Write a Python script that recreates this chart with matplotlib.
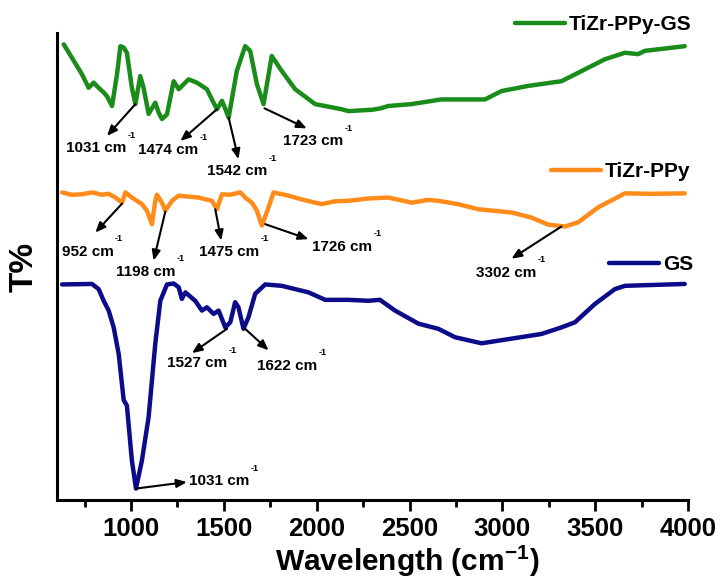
import matplotlib
matplotlib.use("Agg")
import matplotlib.pyplot as plt
from matplotlib.ticker import MultipleLocator

plt.rcParams["font.family"] = ["Liberation Sans", "DejaVu Sans"]
plt.rcParams["font.weight"] = "bold"
plt.rcParams["mathtext.fontset"] = "custom"
plt.rcParams["mathtext.rm"] = "Liberation Sans:bold"
plt.rcParams["mathtext.bf"] = "Liberation Sans:bold"

# spectra: wavenumber (cm-1) and T% (arbitrary, stacked)
tzg_wn = [638, 736, 772, 799, 826, 853, 871, 898, 925, 943, 961, 978, 1005, 1024,
          1050, 1068, 1095, 1131, 1149, 1167, 1194, 1230, 1257, 1310, 1355, 1382,
          1409, 1436, 1463, 1490, 1508, 1526, 1570, 1615, 1642, 1678, 1714, 1758,
          1812, 1884, 1992, 2135, 2171, 2300, 2345, 2386, 2510, 2671, 2906, 2996,
          3139, 3318, 3408, 3552, 3660, 3731, 3767, 3982]
tzg_t = [97.6, 91.2, 88.3, 89.4, 88.3, 87.3, 86.5, 84.4, 91.2, 97.2, 96.9, 95.8,
         88.3, 84.8, 90.8, 88.3, 82.7, 85.1, 83.0, 81.6, 82.6, 89.7, 88.0, 90.1,
         89.4, 88.7, 88.0, 85.8, 83.7, 85.5, 83.8, 81.9, 91.9, 97.2, 96.2, 89.1,
         84.8, 95.1, 91.9, 88.0, 84.8, 83.7, 83.3, 83.6, 83.9, 84.4, 84.8, 85.8,
         85.8, 87.6, 88.7, 89.7, 91.5, 94.4, 95.8, 95.5, 96.2, 97.2]

tzp_wn = [629, 680, 736, 790, 844, 880, 916, 952, 970, 1005, 1059, 1086, 1113,
          1131, 1140, 1167, 1185, 1221, 1257, 1310, 1364, 1436, 1463, 1490, 1535,
          1589, 1615, 1651, 1678, 1705, 1741, 1768, 1848, 1920, 1992, 2027, 2100,
          2171, 2280, 2386, 2512, 2600, 2655, 2760, 2870, 3050, 3157, 3247, 3337,
          3408, 3516, 3660, 3800, 3982]
tzp_t = [65.9, 65.4, 65.5, 65.9, 65.4, 65.6, 64.8, 63.7, 65.9, 64.8, 63.4, 62.0,
         59.1, 64.1, 65.4, 63.7, 62.0, 64.1, 65.2, 65.0, 64.8, 64.1, 62.3, 65.5,
         65.4, 65.9, 64.8, 63.7, 62.0, 58.8, 62.7, 65.9, 65.2, 64.4, 63.7, 63.4,
         64.0, 64.1, 64.6, 64.8, 63.7, 64.3, 64.1, 63.4, 62.3, 61.6, 60.5, 59.0,
         58.6, 59.5, 62.7, 65.7, 65.6, 65.7]

gs_wn = [629, 790, 826, 853, 880, 907, 934, 961, 978, 1005, 1027, 1059, 1095,
         1131, 1158, 1194, 1230, 1257, 1274, 1293, 1346, 1382, 1409, 1445, 1472,
         1508, 1535, 1561, 1579, 1606, 1633, 1669, 1723, 1812, 1956, 2046, 2171,
         2278, 2341, 2422, 2548, 2655, 2745, 2888, 3050, 3211, 3318, 3391, 3498,
         3606, 3660, 3982]
gs_t = [46.2, 46.3, 45.2, 42.7, 40.6, 37.0, 31.3, 21.4, 20.3, 8.5, 2.5, 8.5, 17.8,
        33.5, 42.7, 46.2, 46.4, 45.6, 43.1, 44.5, 42.7, 40.6, 41.3, 39.9, 40.6,
        37.0, 38.1, 42.4, 41.3, 36.7, 39.2, 44.2, 46.2, 45.9, 44.5, 42.9, 42.9,
        42.7, 42.9, 40.6, 37.8, 36.7, 34.9, 33.6, 34.6, 35.6, 37.0, 38.1, 42.0,
        45.2, 45.9, 46.3]

series_names = ["TiZr-PPy-GS", "TiZr-PPy", "GS"]
series_colors = ["#1a8c1a", "#ff8c1a", "#0c0c8a"]

# marked bands
peak_labels = ["1031", "1474", "1542", "1723", "952", "1198", "1475", "1726",
               "3302", "1527", "1622", "1031"]
peak_wn = [1024, 1463, 1526, 1719, 952, 1185, 1454, 1723, 3318, 1517, 1615, 1027]
peak_t = [84.8, 83.7, 81.9, 83.9, 63.5, 61.8, 62.3, 59.1, 58.6, 36.7, 36.7, 2.5]

# layout of the band labels (arrow tip, text left/centre)
arrow_tip = [(871, 78.0), (1266, 76.9), (1579, 73.0), (1947, 79.6), (808, 57.3),
             (1122, 51.3), (1486, 55.6), (1956, 55.9), (3049, 51.7), (1328, 31.5),
             (1741, 32.1), (1301, 3.9)]
text_pos = [(648, 75.4), (1040, 75.0), (1408, 70.5), (1820, 76.9), (627, 53.2),
            (917, 48.9), (1364, 53.2), (1973, 54.3), (2859, 48.7), (1193, 29.3),
            (1677, 28.8), (1310, 4.1)]
legend_anchor = [(0.958, 0.957), (0.956, 0.704), (0.960, 0.544)]

fig = plt.figure(figsize=(7.22, 5.81), dpi=100)
ax = fig.add_axes([0.0785, 0.139, 0.8745, 0.804])

lines = []
for wn, t, name, color in zip([tzg_wn, tzp_wn, gs_wn], [tzg_t, tzp_t, gs_t],
                              series_names, series_colors):
    (ln,) = ax.plot(wn, t, color=color, lw=3.2, label=name,
                    solid_joinstyle="round", solid_capstyle="round")
    lines.append(ln)

for lab, pw, pt, tip, tp in zip(peak_labels, peak_wn, peak_t, arrow_tip, text_pos):
    ax.annotate("", xy=tip, xytext=(pw, pt),
                arrowprops=dict(arrowstyle="-|>,head_length=0.6,head_width=0.25",
                                color="black", lw=1.5, shrinkA=0, shrinkB=0))
    txt = ax.text(tp[0], tp[1], lab + " cm", fontsize=11, fontweight="bold",
                  ha="left", va="center")
    ax.annotate("-1", xy=(1.0, 1.0), xycoords=txt, xytext=(1.0, 1.0),
                textcoords="offset points", fontsize=6.5, fontweight="bold",
                ha="left", va="bottom")

for ln, anchor in zip(lines, legend_anchor):
    fig.legend(handles=[ln], loc="center right", bbox_to_anchor=anchor,
               frameon=False, fontsize=15, handlelength=2.4, handletextpad=0.2,
               borderpad=0, borderaxespad=0)

ax.set_xlim(600, 4000)
ax.set_ylim(0, 100)
ax.set_xticks([1000, 1500, 2000, 2500, 3000, 3500, 4000])
ax.xaxis.set_minor_locator(MultipleLocator(250))
ax.set_yticks([])
ax.tick_params(axis="x", which="major", direction="out", length=8, width=2,
               labelsize=18.5, pad=4)
ax.tick_params(axis="x", which="minor", direction="out", length=5, width=2)
for lab in ax.get_xticklabels():
    lab.set_fontweight("bold")

ax.spines["top"].set_visible(False)
ax.spines["right"].set_visible(False)
ax.spines["left"].set_linewidth(2.2)
ax.spines["bottom"].set_linewidth(2.2)

ax.set_xlabel(r"Wavelength (cm$^{\mathbf{-1}}$)", fontsize=21.5, fontweight="bold")
ax.xaxis.set_label_coords(0.555, -0.092)
ax.set_ylabel("T%", fontsize=24, fontweight="bold", labelpad=12)

fig.savefig("out.png", dpi=100)
